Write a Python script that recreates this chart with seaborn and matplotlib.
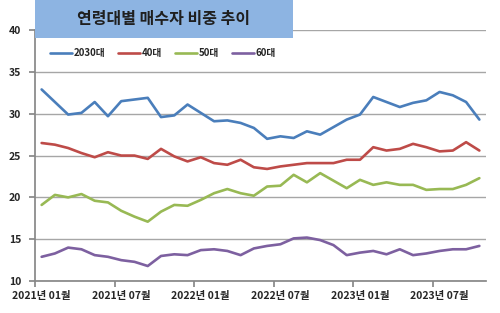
import matplotlib
matplotlib.use("Agg")
import matplotlib.pyplot as plt
from matplotlib.patches import Rectangle
import seaborn as sns
import pandas as pd

# months 2021-01 .. 2023-10
months = pd.date_range("2021-01-01", "2023-10-01", freq="MS").strftime("%Y년 %m월").tolist()

age_2030 = [32.9, 31.4, 29.9, 30.1, 31.4, 29.7, 31.5, 31.7, 31.9, 29.6, 29.8, 31.1,
            30.1, 29.1, 29.2, 28.9, 28.3, 27.0, 27.3, 27.1, 27.9, 27.5, 28.4, 29.3,
            29.9, 32.0, 31.4, 30.8, 31.3, 31.6, 32.6, 32.2, 31.4, 29.3]
age_40 = [26.5, 26.3, 25.9, 25.3, 24.8, 25.4, 25.0, 25.0, 24.6, 25.8, 24.9, 24.3,
          24.8, 24.1, 23.9, 24.5, 23.6, 23.4, 23.7, 23.9, 24.1, 24.1, 24.1, 24.5,
          24.5, 26.0, 25.6, 25.8, 26.4, 26.0, 25.5, 25.6, 26.6, 25.6]
age_50 = [19.1, 20.3, 20.0, 20.4, 19.6, 19.4, 18.4, 17.7, 17.1, 18.3, 19.1, 19.0,
          19.7, 20.5, 21.0, 20.5, 20.2, 21.3, 21.4, 22.7, 21.8, 22.9, 22.0, 21.1,
          22.1, 21.5, 21.8, 21.5, 21.5, 20.9, 21.0, 21.0, 21.5, 22.3]
age_60 = [12.9, 13.3, 14.0, 13.8, 13.1, 12.9, 12.5, 12.3, 11.8, 13.0, 13.2, 13.1,
          13.7, 13.8, 13.6, 13.1, 13.9, 14.2, 14.4, 15.1, 15.2, 14.9, 14.3, 13.1,
          13.4, 13.6, 13.2, 13.8, 13.1, 13.3, 13.6, 13.8, 13.8, 14.2]

groups = ["2030대", "40대", "50대", "60대"]
colors = ["#4a7ebb", "#be4b48", "#98b954", "#7d60a0"]

df = pd.DataFrame({"월": months, "2030대": age_2030, "40대": age_40,
                   "50대": age_50, "60대": age_60})
df["idx"] = range(len(df))
long_df = df.melt(id_vars=["월", "idx"], value_vars=groups, var_name="연령대", value_name="비중")

sns.set_theme(style="white")
plt.rcParams["font.family"] = ["Noto Sans CJK KR", "DejaVu Sans"]

fig = plt.figure(figsize=(5, 3.13), dpi=100)
ax = fig.add_axes([0.07, 0.102, 0.902, 0.802])

sns.lineplot(data=long_df, x="idx", y="비중", hue="연령대", palette=colors,
             linewidth=1.9, ax=ax, legend=False)

ax.set_xlim(-0.5, len(months) - 0.5)
ax.set_ylim(10, 40)
ax.set_yticks([10, 15, 20, 25, 30, 35, 40])
ax.set_yticklabels([str(v) for v in range(10, 45, 5)], fontsize=7.5, fontweight="bold")
ax.yaxis.grid(True, color="#a6a6a6", linewidth=1)
ax.xaxis.grid(False)

# ticks on category boundaries, labels centred on every 6th month
ax.set_xticks([i - 0.5 for i in range(0, len(months) + 1, 6)])
ax.set_xticklabels([])
ax.set_xticks(range(0, len(months), 6), minor=True)
ax.set_xticklabels(months[::6], minor=True, fontsize=7.5, fontweight="bold")
ax.tick_params(axis="x", which="major", length=4, color="#888888", direction="out", bottom=True)
ax.tick_params(axis="x", which="minor", length=0, pad=7)
ax.tick_params(axis="y", length=4, color="#888888", direction="out", left=True, pad=6)
ax.set_xlabel("")
ax.set_ylabel("")

for side in ["top", "right"]:
    ax.spines[side].set_visible(False)
ax.spines["left"].set_color("#888888")
ax.spines["bottom"].set_color("#888888")

# title box
fig.patches.append(Rectangle((0.07, 0.879), 0.516, 0.121, transform=fig.transFigure,
                             facecolor="#8db4e2", edgecolor="none", zorder=5))
fig.text(0.328, 0.94, "연령대별 매수자 비중 추이", ha="center", va="center",
         fontsize=11.5, fontweight="bold", color="#1f1f1f", zorder=6)

handles = [plt.Line2D([], [], color=c, linewidth=1.9) for c in colors]
leg = fig.legend(handles, groups, loc="center left", bbox_to_anchor=(0.082, 0.83),
                 ncol=4, frameon=False, fontsize=7, handlelength=2.3,
                 handletextpad=0.15, columnspacing=1.3)
for t in leg.get_texts():
    t.set_fontweight("bold")

fig.savefig("out.png", dpi=100)
